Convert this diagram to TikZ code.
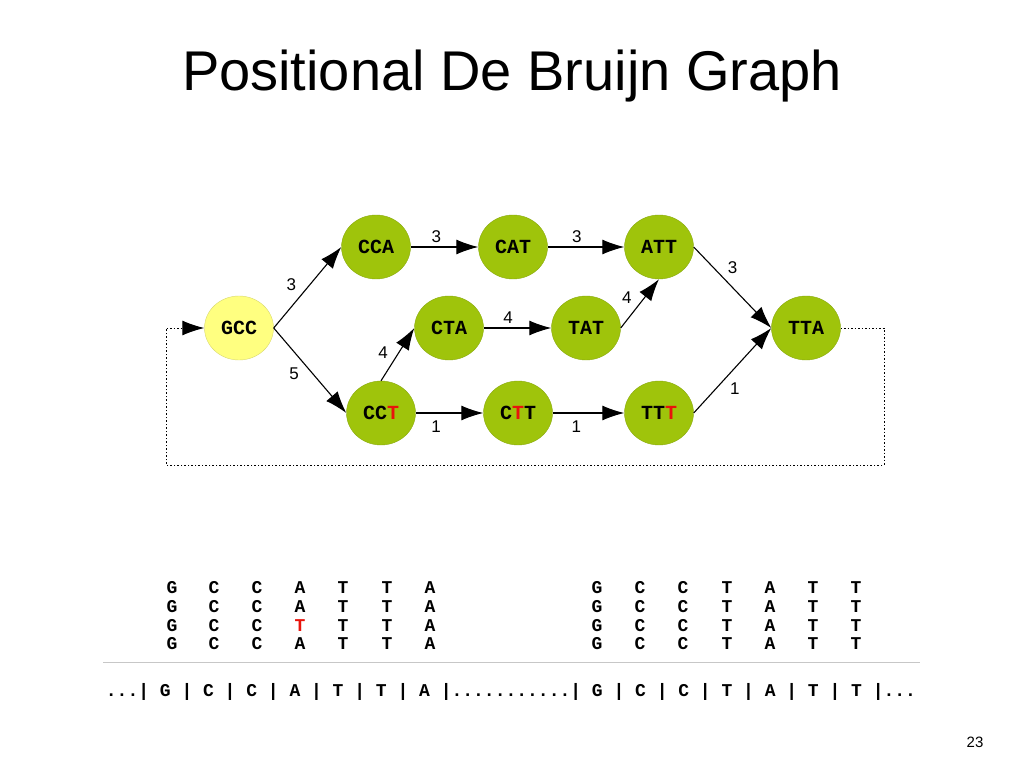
\documentclass[tikz,border=0pt]{standalone}
\usepackage{fontspec}
\setmainfont{Liberation Sans}
\newfontfamily\basefont{Liberation Mono}
\usetikzlibrary{arrows.meta,shapes.geometric}
\definecolor{kmergreen}{HTML}{9FC40B}
\definecolor{kmerline}{HTML}{8AAA10}
\definecolor{startyellow}{HTML}{FFFF80}
\definecolor{startline}{HTML}{D8D870}
\definecolor{snp}{HTML}{E8140C}
\tikzstyle{kmer}=[ellipse, draw=kmerline, fill=kmergreen, minimum width=69pt, minimum height=64pt, inner sep=0pt, font=\basefont\bfseries\fontsize{20}{24}\selectfont]
\tikzstyle{start}=[kmer, draw=startline, fill=startyellow]
\tikzstyle{flow}=[draw, line width=1.1pt, -{Latex[length=22pt, width=15pt]}]
\tikzstyle{weight}=[font=\fontsize{17}{20}\selectfont, inner sep=4pt]
\tikzstyle{base}=[font=\basefont\bfseries\fontsize{18}{20}\selectfont, inner sep=0pt, anchor=base]
\newcommand{\alt}[1]{\textcolor{snp}{#1}}

\begin{document}
\begin{tikzpicture}[x=1pt, y=-1pt]
                    \useasboundingbox (0,0) rectangle (1024,768);
                    \node[anchor=base, font=\fontsize{56}{60}\selectfont] (title) at (512,90) {Positional De Bruijn Graph};
                    % graph
                    \node[start] (gcc) at (239,328) {GCC};
                    \node[kmer] (cca) at (376,247) {CCA};
                    \node[kmer] (cat) at (513,247) {CAT};
                    \node[kmer] (att) at (659,247) {ATT};
                    \node[kmer] (cta) at (449,328) {CTA};
                    \node[kmer] (tat) at (586,328) {TAT};
                    \node[kmer] (tta) at (806,328) {TTA};
                    \node[kmer] (cct) at (381,413) {CC\alt{T}};
                    \node[kmer] (ctt) at (518,413) {C\alt{T}T};
                    \node[kmer] (ttt) at (659,413) {TT\alt{T}};
                    \path[auto]
                        (gcc.east) edge[flow] node[weight, pos=0.4] {3} (cca.west)
                        (gcc.east) edge[flow] node[weight, swap, pos=0.41] {5} (cct.west)
                        (cca) edge[flow] node[weight, pos=0.38] {3} (cat)
                        (cat) edge[flow] node[weight, pos=0.38] {3} (att)
                        (cta) edge[flow] node[weight, pos=0.36] {4} (tat)
                        (cct) edge[flow] node[weight, swap, pos=0.3, inner sep=7pt] {1} (ctt)
                        (ctt) edge[flow] node[weight, swap, pos=0.33, inner sep=7pt] {1} (ttt)
                        (cct.north) edge[flow] node[weight, pos=0.34] {4} (cta.west)
                        (tat.east) edge[flow] node[weight, pos=0.4] {4} (att.south)
                        (att.east) edge[flow] node[weight, pos=0.38] {3} (tta.west)
                        (ttt.east) edge[flow] node[weight, swap, pos=0.41] {1} (tta.west)
                    ;
                    % loop back
                    \coordinate (loopr) at (884,465);
                    \coordinate (loopl) at (166,465);
                    \draw[flow, line width=1pt, dash pattern=on 1.5pt off 2pt]
                        (tta.east) -| (loopr) -- (loopl) |- (gcc.west);
                    % reads
                    \foreach \r/\y in {1/593, 2/612, 3/631, 4/649} {
                        \foreach \c/\x/\b in {1/172/G, 2/214/C, 3/257/C, 4/300/A, 5/343/T, 6/387/T, 7/430/A} {
                            \node[base] (la\r\c) at (\x,\y) {\ifnum\r\c=34 \alt{T}\else\b\fi};
                        }
                        \foreach \c/\x/\b in {1/597/G, 2/640/C, 3/683/C, 4/727/T, 5/770/A, 6/813/T, 7/856/T} {
                            \node[base] (lb\r\c) at (\x,\y) {\b};
                        }
                    }
                    \coordinate (rulel) at (103,662);
                    \coordinate (ruler) at (920,662);
                    \draw[line width=1pt, black!22] (rulel) -- (ruler);
                    \node[base] (ref) at (511,696) {...| G | C | C | A | T | T | A |...........| G | C | C | T | A | T | T |...};
                    \node[anchor=base, font=\fontsize{15}{18}\selectfont] (page) at (975,747) {23};
                \end{tikzpicture}
\end{document}
